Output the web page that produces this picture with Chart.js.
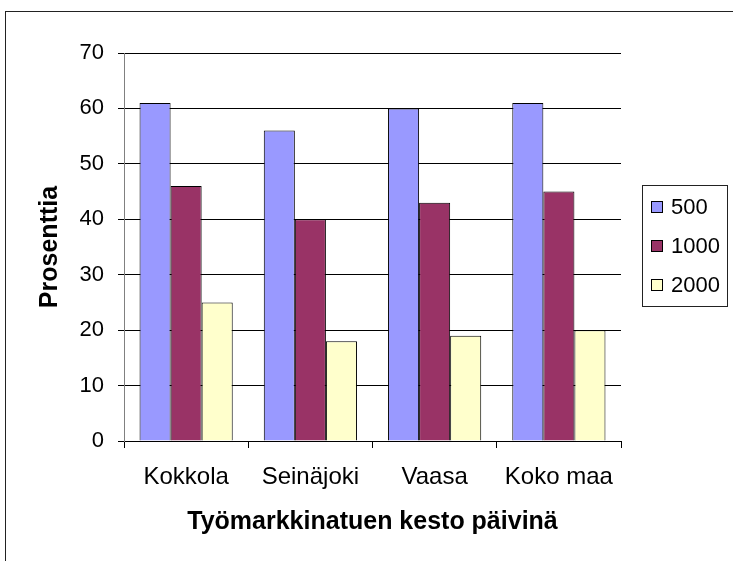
<!DOCTYPE html>
<html>
<head>
<meta charset="utf-8">
<script src="https://cdn.jsdelivr.net/npm/chart.js@4"></script>
<style>
  html, body { margin: 0; padding: 0; background: #fff; }
  #wrap { width: 733px; height: 561px; }
</style>
</head>
<body>
<div id="wrap"><canvas id="myChart" width="733" height="561"></canvas></div>
<script>
const categories = ['Kokkola', 'Seinäjoki', 'Vaasa', 'Koko maa'];
const seriesNames = ['500', '1000', '2000'];
const values500 = [61, 56, 60, 61];
const values1000 = [46, 40, 43, 45];
const values2000 = [25, 18, 19, 20];
const colors = ['#9999FF', '#993366', '#FFFFCC'];

const font = '"Liberation Sans", Arial, sans-serif';

// outer frame + boxed legend, Excel style
const framePlugin = {
    id: 'frame',
    beforeDraw(chart) {
        const c = chart.ctx;
        c.save();
        c.fillStyle = '#fff';
        c.fillRect(0, 0, chart.width, chart.height);
        c.strokeStyle = '#222';
        c.lineWidth = 1;
        c.strokeRect(5.5, 11.5, 800, 700);
        c.restore();
    },
    afterDraw(chart) {
        const c = chart.ctx;
        c.save();
        c.strokeStyle = '#222';
        c.lineWidth = 1;
        c.strokeRect(642.5, 185.5, 85, 121);
        c.font = '22px ' + font;
        c.textBaseline = 'middle';
        const rows = [207, 246, 285];
        chart.data.datasets.forEach((ds, i) => {
            const y = rows[i];
            c.fillStyle = ds.backgroundColor;
            c.fillRect(651, y - 6, 11, 11);
            c.strokeStyle = '#000';
            c.strokeRect(651.5, y - 5.5, 11, 11);
            c.fillStyle = '#000';
            c.fillText(ds.label, 671, y + 1);
        });
        c.restore();
    }
};

const ctx = document.getElementById('myChart').getContext('2d');
const myChart = new Chart(ctx, {
    type: 'bar',
    data: {
        labels: categories,
        datasets: [
            { label: seriesNames[0], data: values500, backgroundColor: colors[0] },
            { label: seriesNames[1], data: values1000, backgroundColor: colors[1] },
            { label: seriesNames[2], data: values2000, backgroundColor: colors[2] }
        ].map(d => Object.assign(d, {
            borderColor: '#000',
            borderWidth: 1,
            barPercentage: 1,
            categoryPercentage: 0.75
        }))
    },
    options: {
        responsive: false,
        animation: false,
        layout: { padding: { left: 0, top: 53, right: 112, bottom: 0 } },
        plugins: {
            legend: { display: false },
            tooltip: { enabled: false }
        },
        scales: {
            x: {
                afterFit(scale) { scale.height = 120; },
                grid: {
                    offset: true,
                    drawOnChartArea: false,
                    drawTicks: true,
                    tickLength: 7,
                    color: '#000'
                },
                border: { color: '#000' },
                ticks: {
                    color: '#000',
                    font: { family: font, size: 24 },
                    padding: 15
                },
                title: {
                    display: true,
                    text: 'Työmarkkinatuen kesto päivinä',
                    color: '#000',
                    font: { family: font, size: 25, weight: 'bold' },
                    padding: { bottom: 24 }
                }
            },
            y: {
                min: 0,
                max: 70,
                afterFit(scale) { scale.width = 124; },
                ticks: {
                    stepSize: 10,
                    color: '#000',
                    font: { family: font, size: 22 },
                    padding: 14
                },
                grid: {
                    color: '#000',
                    tickLength: 6
                },
                border: { color: '#808080' },
                title: {
                    display: true,
                    text: 'Prosenttia',
                    color: '#000',
                    font: { family: font, size: 25, weight: 'bold' },
                    padding: { top: 35 }
                }
            }
        }
    },
    plugins: [framePlugin]
});
</script>
</body>
</html>
